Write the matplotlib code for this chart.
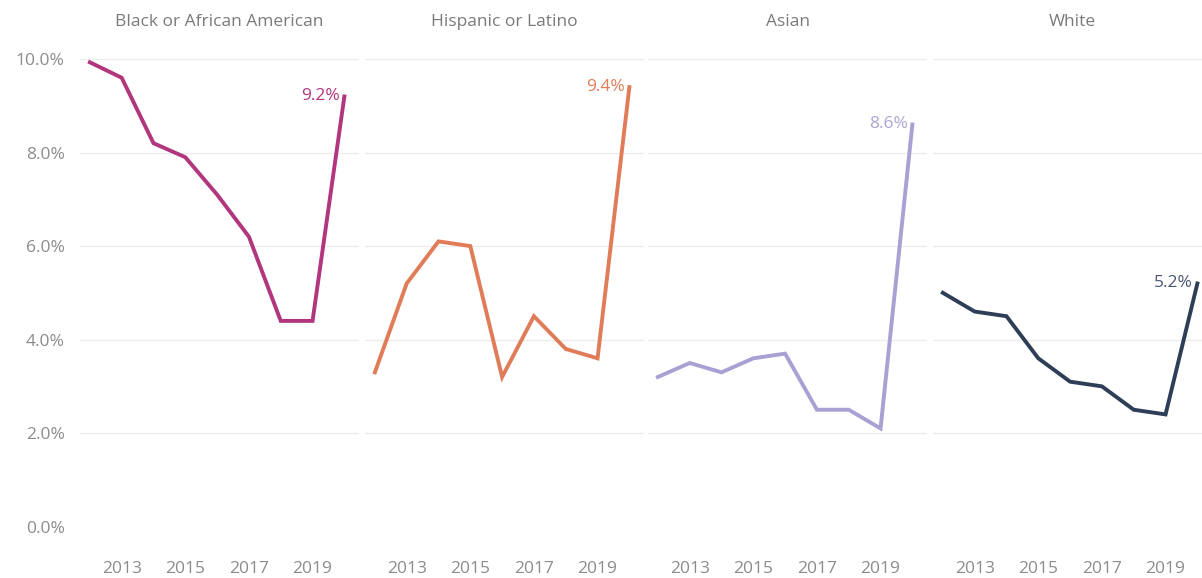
import matplotlib.pyplot as plt

plt.rcParams["font.family"] = ["Open Sans", "DejaVu Sans"]

YEARS = [2012, 2013, 2014, 2015, 2016, 2017, 2018, 2019, 2020]
GROUPS = ["Black or African American", "Hispanic or Latino", "Asian", "White"]
BLACK = [9.93, 9.6, 8.2, 7.9, 7.1, 6.2, 4.4, 4.4, 9.2]
HISPANIC = [3.3, 5.2, 6.1, 6.0, 3.2, 4.5, 3.8, 3.6, 9.4]
ASIAN = [3.2, 3.5, 3.3, 3.6, 3.7, 2.5, 2.5, 2.1, 8.6]
WHITE = [5.0, 4.6, 4.5, 3.6, 3.1, 3.0, 2.5, 2.4, 5.2]
SERIES = [BLACK, HISPANIC, ASIAN, WHITE]
COLORS = ["#b1367d", "#e07c58", "#a7a2d3", "#2e3e57"]
LABEL_COLORS = ["#b1367d", "#e07c58", "#aaa6d4", "#4a5670"]
YTICKS = [0, 2, 4, 6, 8, 10]
XTICKS = [2013, 2015, 2017, 2019]

W, H = 1202, 578
fig = plt.figure(figsize=(W / 100, H / 100), dpi=100)

# panel left edges in pixels, all panels same width
lefts = [80, 365, 648, 933]
pw = 279
top_px, bot_px = 45, 536
grey = "#8c8c8c"
fs = 12.5

for i, (name, vals, col) in enumerate(zip(GROUPS, SERIES, COLORS)):
    ax = fig.add_axes([lefts[i] / W, 1 - bot_px / H, pw / W, (bot_px - top_px) / H])
    ax.plot(YEARS, vals, color=col, lw=2.8, solid_joinstyle="miter")
    ax.set_xlim(2011.69, 2020.46)
    ax.set_ylim(-0.2, 10.3)
    for y in YTICKS[1:]:
        ax.axhline(y, color="#ececec", lw=0.9, zorder=0)
    for s in ax.spines.values():
        s.set_visible(False)
    ax.set_xticks(XTICKS)
    ax.set_xticklabels([str(x) for x in XTICKS])
    ax.tick_params(axis="x", length=0, pad=18, labelsize=fs, labelcolor=grey)
    if i == 0:
        ax.set_yticks(YTICKS)
        ax.set_yticklabels([f"{y:.1f}%" for y in YTICKS])
        ax.tick_params(axis="y", length=0, pad=11, labelsize=fs, labelcolor=grey)
    else:
        ax.set_yticks([])
    ax.annotate(f"{vals[-1]:.1f}%", (YEARS[-1], vals[-1]), xytext=(-3, 0),
                textcoords="offset points", ha="right", va="center",
                fontsize=fs, color=LABEL_COLORS[i])
    ax.set_title(name, fontsize=fs, color="#7a7a7a", pad=14)

fig.savefig("out.png", dpi=100, facecolor="white")
